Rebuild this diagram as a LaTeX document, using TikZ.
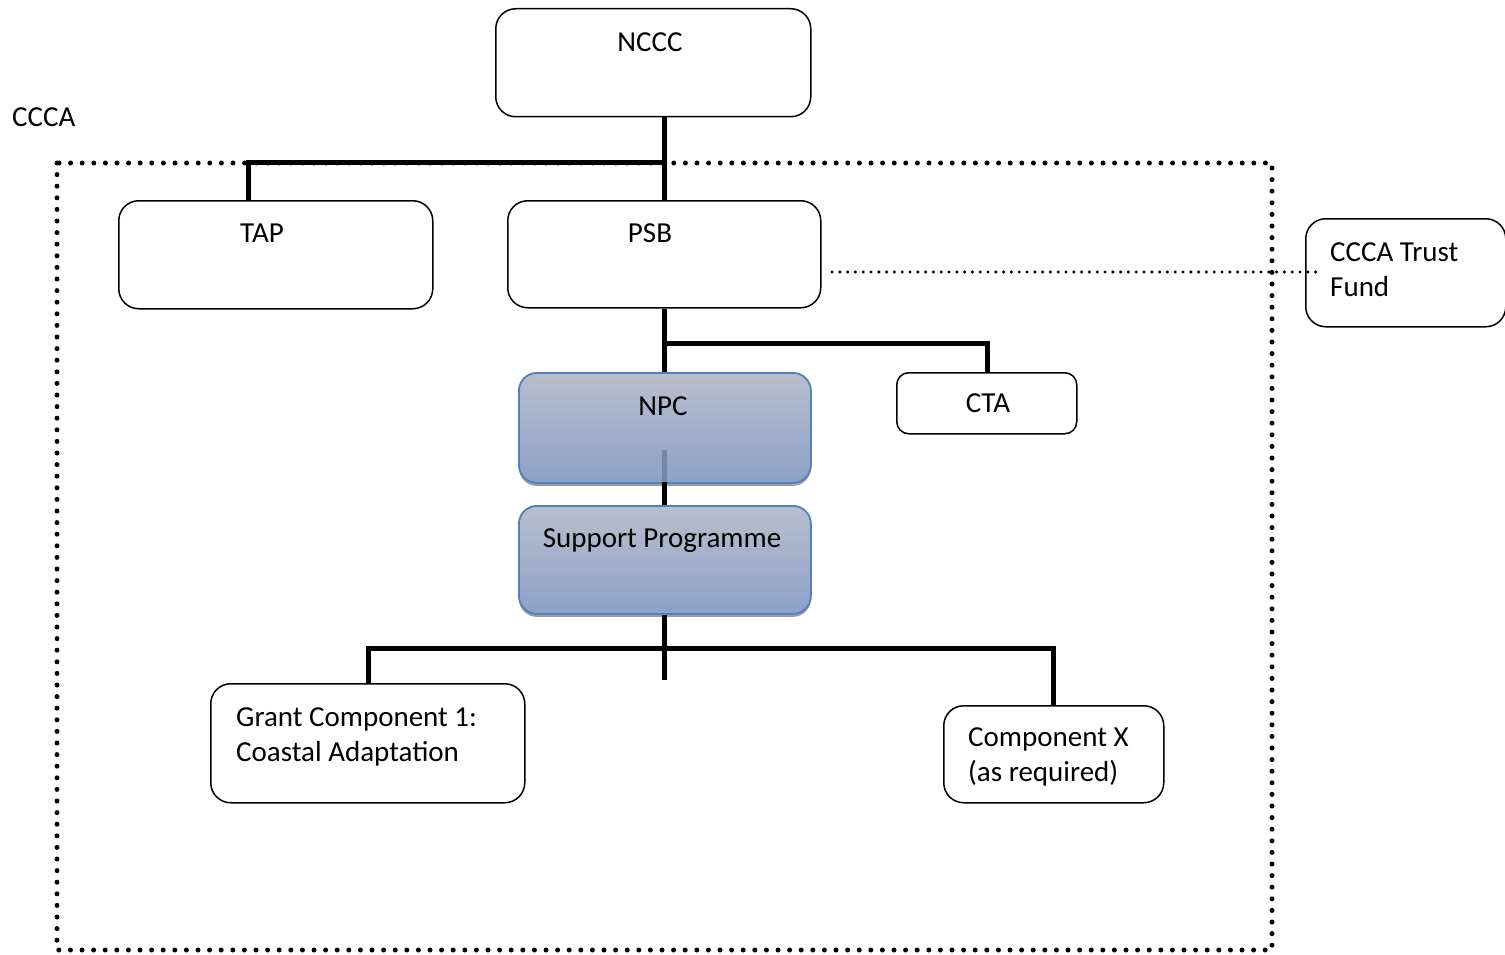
\documentclass[tikz,border=0pt]{standalone}
\usepackage{fontspec}
\setmainfont{Carlito}
\usetikzlibrary{shadows,calc}
\definecolor{bluebd}{RGB}{79,129,189}
\definecolor{gtop}{RGB}{186,190,204}
\definecolor{gbot}{RGB}{140,161,201}
\definecolor{ghost}{RGB}{118,133,168}
\begin{document}
\begin{tikzpicture}[x=1pt,y=-1pt,
  box/.style={draw, line width=1.5pt, rounded corners=20pt, anchor=north west, inner sep=0pt},
  bluebox/.style={draw=bluebd, line width=1.8pt, rounded corners=18pt, anchor=north west, inner sep=0pt,
     top color=gtop, bottom color=gbot,
     drop shadow={shadow xshift=0pt, shadow yshift=-3pt, opacity=0.55, fill=black!70}},
  conn/.style={line width=5pt},
  bigdots/.style={line width=5pt, line cap=round, dash pattern=on 0pt off 11.6pt},
  smalldots/.style={line width=3.4pt, line cap=round, dash pattern=on 0pt off 7.8pt},
  txt/.style={anchor=base, inner sep=0pt, font=\fontsize{29}{35}\selectfont},
  ltxt/.style={anchor=base west, inner sep=0pt, font=\fontsize{29}{35}\selectfont}]
\useasboundingbox (0,0) rectangle (1505,955);

% outer dotted frame
\draw[bigdots] (57,163) rectangle (1272,950);

% boxes
\node[box, minimum width=315pt, minimum height=108pt] (nccc) at (495,8) {};
\node[box, minimum width=314pt, minimum height=108pt] (tap) at (118,200) {};
\node[box, minimum width=313pt, minimum height=107pt] (psb) at (507,200) {};
\node[box, minimum width=200pt, minimum height=108pt] (tf) at (1305,218) {};
\node[box, rounded corners=12pt, minimum width=180pt, minimum height=61pt] (cta) at (896,372) {};
\node[bluebox, minimum width=292pt, minimum height=110pt] (npc) at (518,372) {};
\node[bluebox, minimum width=292pt, minimum height=108pt] (sp) at (518,505) {};
\node[box, minimum width=314pt, minimum height=119pt] (grant) at (210,683) {};
\node[box, minimum width=220pt, minimum height=97pt] (compx) at (943,705) {};

% texts
\node[txt] (tnccc) at (650,52) {NCCC};
\node[ltxt] (tccca) at (12,127) {CCCA};
\node[txt] (ttap) at (262,242) {TAP};
\node[txt] (tpsb) at (650,242) {PSB};
\node[ltxt] (ttf) at (1330,261) {CCCA Trust};
\node[ltxt] (ttf2) at (1330,296) {Fund};
\node[txt] (tcta) at (988,412) {CTA};
\node[txt] (tnpc) at (663,415) {NPC};
\node[txt] (tsp) at (662,547) {Support Programme};
\node[ltxt] (tgr1) at (236,726) {Grant Component 1:};
\node[ltxt] (tgr2) at (236,761) {Coastal Adaptation};
\node[ltxt] (tcx1) at (968,746) {Component X};
\node[ltxt] (tcx2) at (968,781) {(as required)};

% connectors
\coordinate (j1) at (664,163);
\coordinate (j2) at (248,163);
\draw[conn] (nccc.south -| j1) -- (psb.north -| j1);
\draw[conn] (j1) -- (j2) -- (tap.north -| j2);

\coordinate (j3) at (664,343);
\coordinate (j5) at (987,343);
\draw[conn] (psb.south -| j3) -- (npc.north -| j3);
\draw[conn] (j3) -- (j5) -- (cta.north -| j5);

\coordinate (j6) at (664,482);
\draw[conn] (j6) -- (sp.north -| j6);
\coordinate (g1) at (664,450);
\draw[conn, ghost] (g1) -- (j6);

\coordinate (j4) at (664,648);
\coordinate (tail) at (664,680);
\coordinate (j7) at (368,648);
\coordinate (j8) at (1053,648);
\draw[conn] (sp.south -| j4) -- (tail);
\draw[conn] (grant.north -| j7) -- (j7) -- (j8) -- (compx.north -| j8);

% dotted link PSB -- Trust Fund
\coordinate (d1) at (832,272);
\draw[smalldots] (d1) -- ($(d1 -| tf.west)+(15,0)$);
\end{tikzpicture}
\end{document}
